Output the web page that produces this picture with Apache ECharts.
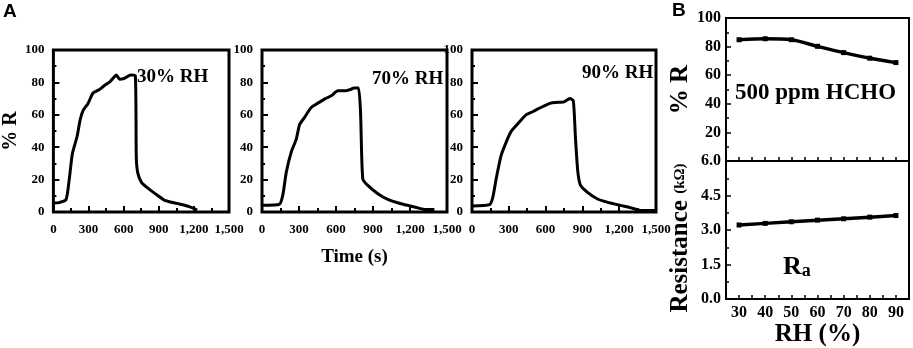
<!DOCTYPE html>
<html>
<head>
<meta charset="utf-8">
<script src="https://cdn.jsdelivr.net/npm/echarts@6/dist/echarts.min.js"></script>
<style>
  html, body { margin: 0; padding: 0; background: #fff; }
  #chart { width: 913px; height: 348px; }
</style>
</head>
<body>
<div id="chart"></div>
<script>
  // panel A: response transients (time in s, %R)
  var time30 = [0, 50, 108, 135, 162, 202, 229, 256, 296, 337, 390, 431, 485, 539, 566, 606, 660, 700, 708, 721, 754, 785, 866, 946, 1054, 1161, 1228];
  var resp30 = [5.5, 5.8, 7.6, 20, 36, 46.6, 57, 63, 67, 73.3, 75.4, 77.8, 80.5, 84.6, 82, 82.5, 84.6, 84, 34, 24, 18, 16, 11.5, 7.4, 5.3, 3.3, 1.2];
  var time70 = [0, 143, 170, 197, 237, 278, 305, 345, 399, 453, 507, 561, 615, 669, 723, 745, 782, 799, 817, 858, 939, 1020, 1128, 1236, 1317, 1398];
  var resp70 = [4.1, 4.9, 11, 24.6, 37, 45, 54, 58.4, 64.5, 67.2, 69.7, 71.7, 74.8, 74.8, 75.8, 76.6, 76.6, 61.5, 20.5, 16.4, 11.3, 7.8, 5.1, 3.1, 1.6, 1.6];
  var time90 = [0, 143, 170, 197, 237, 278, 318, 372, 440, 494, 561, 642, 682, 750, 799, 826, 844, 863, 885, 939, 1020, 1101, 1208, 1290, 1371, 1492];
  var resp90 = [3.7, 4.5, 9.2, 20.5, 34.8, 43, 49.6, 54.3, 60, 61.9, 64.5, 67.2, 67.6, 68, 70, 68.6, 45, 24.6, 16.4, 12.3, 8.2, 6.1, 4.1, 2.7, 1, 1];
  var panelLabels = ['30% RH', '70% RH', '90% RH'];

  // panel B: vs relative humidity
  var rh = [30, 40, 50, 60, 70, 80, 90];
  var pctR = [84.8, 85.5, 84.8, 80.2, 75.8, 71.9, 68.8];
  var resistance = [3.22, 3.29, 3.36, 3.43, 3.49, 3.56, 3.63];

  var serif = 'Liberation Serif';
  var chart = echarts.init(document.getElementById('chart'));

  function pairs(xs, ys) {
    return xs.map(function (x, i) { return [x, ys[i]]; });
  }

  var gridsA = [
    {left: 43, top: 50, width: 186, height: 162},
    {left: 262, top: 50, width: 185, height: 162},
    {left: 472, top: 50, width: 184, height: 162}
  ];
  var grids = gridsA.concat([
    {left: 726, top: 18, width: 183, height: 143},
    {left: 726, top: 161, width: 183, height: 141}
  ]).map(function (g, i) {
    return Object.assign({show: true, borderColor: '#000', borderWidth: i < 3 ? 3 : 2, backgroundColor: 'transparent'}, g);
  });

  var xAxes = [], yAxes = [];
  [0, 1, 2].forEach(function (i) {
    xAxes.push({
      gridIndex: i, type: 'value', min: 0, max: 1500, interval: 300,
      axisLine: {show: false},
      axisTick: {inside: true, length: 6, lineStyle: {width: 2, color: '#000'}},
      minorTick: {show: true, splitNumber: 2, length: 4, lineStyle: {width: 2, color: '#000'}},
      splitLine: {show: false},
      axisLabel: {margin: 11, fontFamily: serif, fontWeight: 'bold', fontSize: 13, color: '#000'},
      name: i === 1 ? 'Time (s)' : '', nameLocation: 'middle', nameGap: 36,
      nameTextStyle: {fontFamily: serif, fontWeight: 'bold', fontSize: 19, color: '#000'}
    });
    yAxes.push({
      gridIndex: i, type: 'value', min: 0, max: 100, interval: 20,
      axisLine: {show: false},
      axisTick: {inside: true, length: 6, lineStyle: {width: 2, color: '#000'}},
      minorTick: {show: true, splitNumber: 2, length: 3, lineStyle: {width: 2, color: '#000'}},
      splitLine: {show: false},
      axisLabel: {margin: 9, fontFamily: serif, fontWeight: 'bold', fontSize: 13, color: '#000'},
      name: i === 0 ? '% R' : '', nameLocation: 'middle', nameGap: 24, nameRotate: 90,
      nameTextStyle: {fontFamily: serif, fontWeight: 'bold', fontSize: 20, color: '#000'}
    });
  });

  [3, 4].forEach(function (i) {
    xAxes.push({
      gridIndex: i, type: 'value', min: 25, max: 95, interval: 5,
      axisLine: {show: false},
      axisTick: {inside: true, length: 4, lineStyle: {width: 1.5, color: '#000'}},
      splitLine: {show: false},
      axisLabel: {
        show: i === 4, interval: 0, margin: 6,
        formatter: function (v) { return v % 10 === 0 ? v : ''; },
        fontFamily: serif, fontWeight: 'bold', fontSize: 16, color: '#000'
      },
      name: i === 4 ? 'RH (%)' : '', nameLocation: 'middle', nameGap: 19,
      nameTextStyle: {fontFamily: serif, fontWeight: 'bold', fontSize: 25, color: '#000'}
    });
  });
  yAxes.push({
    gridIndex: 3, type: 'value', min: 0, max: 100, interval: 20,
    axisLine: {show: false},
    axisTick: {inside: true, length: 5, lineStyle: {width: 1.5, color: '#000'}},
    minorTick: {show: true, splitNumber: 2, length: 3, lineStyle: {width: 1.5, color: '#000'}},
    splitLine: {show: false},
    axisLabel: {showMinLabel: false, margin: 5, fontFamily: serif, fontWeight: 'bold', fontSize: 16, color: '#000'},
    name: '% R', nameLocation: 'middle', nameGap: 33, nameRotate: 90,
    nameTextStyle: {fontFamily: serif, fontWeight: 'bold', fontSize: 25, color: '#000'}
  });
  yAxes.push({
    gridIndex: 4, type: 'value', min: 0, max: 6, interval: 1.5,
    axisLine: {show: false},
    axisTick: {inside: true, length: 5, lineStyle: {width: 1.5, color: '#000'}},
    minorTick: {show: true, splitNumber: 2, length: 3, lineStyle: {width: 1.5, color: '#000'}},
    splitLine: {show: false},
    axisLabel: {margin: 5, formatter: function (v) { return v.toFixed(1); }, fontFamily: serif, fontWeight: 'bold', fontSize: 16, color: '#000'},
    name: '{a|Resistance }{b|(kΩ)}', nameLocation: 'middle', nameGap: 33, nameRotate: 90,
    nameTextStyle: {
      fontFamily: serif, fontWeight: 'bold', color: '#000', padding: [0, 16, 0, 0],
      rich: {
        a: {fontFamily: serif, fontWeight: 'bold', fontSize: 25, color: '#000'},
        b: {fontFamily: serif, fontWeight: 'bold', fontSize: 15, color: '#000'}
      }
    }
  });

  var lineA = {type: 'line', showSymbol: false, smooth: 0.2, lineStyle: {color: '#000', width: 3}, silent: true};
  var series = [
    Object.assign({xAxisIndex: 0, yAxisIndex: 0, data: pairs(time30, resp30)}, lineA),
    Object.assign({xAxisIndex: 1, yAxisIndex: 1, data: pairs(time70, resp70)}, lineA),
    Object.assign({xAxisIndex: 2, yAxisIndex: 2, data: pairs(time90, resp90)}, lineA),
    {type: 'line', xAxisIndex: 3, yAxisIndex: 3, data: pairs(rh, pctR), smooth: 0.3,
      symbol: 'rect', symbolSize: 5, itemStyle: {color: '#000'}, lineStyle: {color: '#000', width: 3.5}, silent: true},
    {type: 'line', xAxisIndex: 4, yAxisIndex: 4, data: pairs(rh, resistance),
      symbol: 'rect', symbolSize: 5, itemStyle: {color: '#000'}, lineStyle: {color: '#000', width: 3.5}, silent: true}
  ];

  function label(x, y, text, size, family, align) {
    return {type: 'text', x: x, y: y, silent: true,
      style: {text: text, fontSize: size, fontWeight: 'bold', fontFamily: family || serif, fill: '#000',
        align: align || 'left', verticalAlign: 'middle'}};
  }

  var graphics = [
    label(3, 12, 'A', 19, 'Liberation Sans'),
    label(672, 11, 'B', 19, 'Liberation Sans'),
    label(137, 77, panelLabels[0], 19),
    label(372, 79, panelLabels[1], 19),
    label(582, 73, panelLabels[2], 19),
    label(735, 93, '500 ppm HCHO', 23),
    {type: 'text', x: 783, y: 267, silent: true,
      style: {text: '{r|R}{s|a}', fill: '#000', verticalAlign: 'middle',
        rich: {
          r: {fontSize: 26, fontWeight: 'bold', fontFamily: serif, fill: '#000'},
          s: {fontSize: 18, fontWeight: 'bold', fontFamily: serif, fill: '#000', padding: [8, 0, 0, 0]}
        }}}
  ];

  chart.setOption({
    animation: false,
    backgroundColor: '#fff',
    grid: grids,
    xAxis: xAxes,
    yAxis: yAxes,
    series: series,
    graphic: graphics
  });
</script>
</body>
</html>
